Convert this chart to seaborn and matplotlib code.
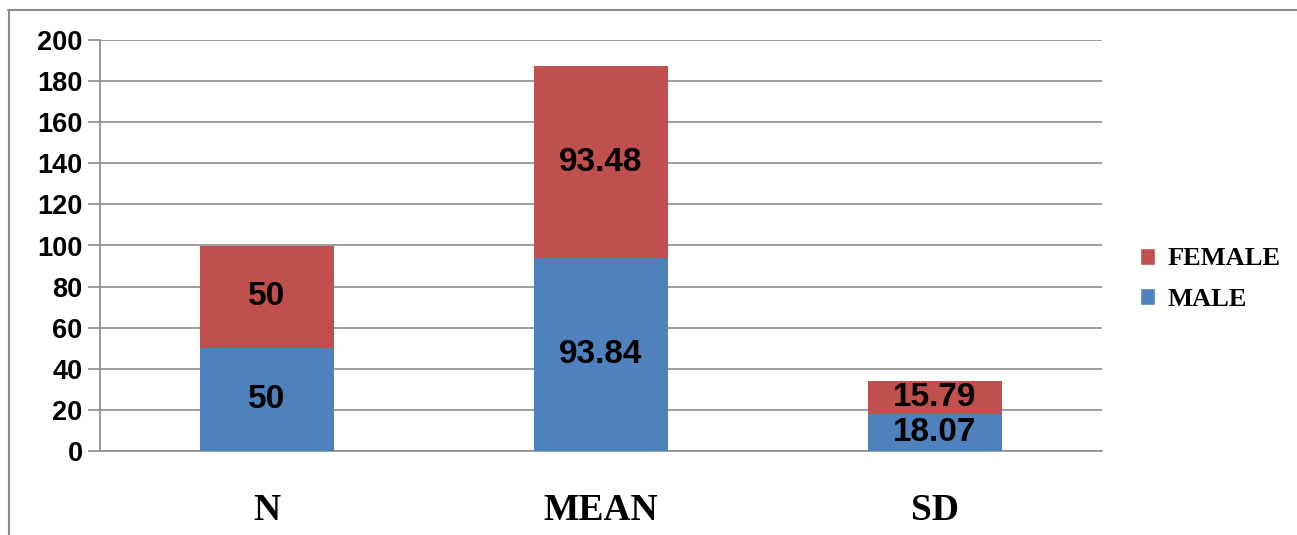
import matplotlib
matplotlib.use("Agg")
import matplotlib.pyplot as plt
import seaborn as sns
import pandas as pd
from matplotlib.lines import Line2D
from matplotlib.patches import Patch

categories = ["N", "MEAN", "SD"]
male = [50, 93.84, 18.07]
female = [50, 93.48, 15.79]
male_labels = ["50", "93.84", "18.07"]
female_labels = ["50", "93.48", "15.79"]
yticks = [0, 20, 40, 60, 80, 100, 120, 140, 160, 180, 200]

RED = "#C0504D"
BLUE = "#4F81BD"
GRID = "#8C8C8C"

sns.set_style("white")
plt.rcParams["font.family"] = ["Liberation Sans", "DejaVu Sans"]
plt.rcParams["text.color"] = "black"
plt.rcParams["xtick.color"] = "black"
plt.rcParams["ytick.color"] = "black"

fig = plt.figure(figsize=(12.97, 5.35), dpi=100)
ax = fig.add_axes([100 / 1297, 1 - 451 / 535, 1002 / 1297, 411 / 535])

df = pd.DataFrame({"cat": categories, "male": male, "female": female})
sns.barplot(data=df, x="cat", y="male", color=BLUE, width=0.4, ax=ax,
            saturation=1, linewidth=0, zorder=3)
sns.barplot(data=df, x="cat", y="female", bottom=df["male"], color=RED, width=0.4,
            ax=ax, saturation=1, linewidth=0, zorder=3)

for i in range(len(categories)):
    ax.text(i, male[i] / 2, male_labels[i], ha="center", va="center",
            fontsize=24, fontweight="bold", color="black", zorder=5)
    ax.text(i, male[i] + female[i] / 2, female_labels[i], ha="center", va="center",
            fontsize=24, fontweight="bold", color="black", zorder=5)

ax.set_xlim(-0.5, 2.5)
ax.set_ylim(0, 200)
ax.set_yticks(yticks)
ax.set_yticklabels([str(v) for v in yticks], fontsize=19.5, fontweight="bold", color="black")
ax.yaxis.grid(True, color=GRID, linewidth=1.2, zorder=0)
ax.set_axisbelow(True)
ax.set_xlabel("")
ax.set_ylabel("")
ax.set_xticks(range(len(categories)))
ax.set_xticklabels(categories, fontsize=27, fontweight="bold", color="black",
                   family=["Liberation Serif", "DejaVu Serif"])
ax.set_xticks([-0.5, 0.5, 1.5, 2.5], minor=True)
ax.tick_params(axis="x", which="major", length=0, pad=30)
ax.tick_params(axis="x", which="minor", length=14, width=1.2, color=GRID, direction="out")
ax.tick_params(axis="y", length=8.5, width=1.2, color=GRID, labelcolor="black",
               direction="out", pad=4, left=True)

for s in ["top", "right"]:
    ax.spines[s].set_visible(False)
for s in ["left", "bottom"]:
    ax.spines[s].set_color(GRID)
    ax.spines[s].set_linewidth(1.2)

handles = [Patch(facecolor=RED, label="FEMALE"), Patch(facecolor=BLUE, label="MALE")]
leg = ax.legend(handles=handles, loc="center left",
                bbox_to_anchor=((1140 - 100) / 1002, (451 - 279) / 411),
                frameon=False, borderpad=0, borderaxespad=0,
                handlelength=0.58, handleheight=0.62, handletextpad=0.48,
                labelspacing=0.65,
                prop={"family": ["Liberation Serif", "DejaVu Serif"], "weight": "bold", "size": 19})
for t in leg.get_texts():
    t.set_color("black")

# outer frame
fig.add_artist(Line2D([8 / 1297, 1.0], [1 - 9.5 / 535] * 2, color="#8A8A8A", linewidth=1.5,
                      transform=fig.transFigure))
fig.add_artist(Line2D([8.5 / 1297] * 2, [0, 1 - 9.5 / 535], color="#8A8A8A", linewidth=1.5,
                      transform=fig.transFigure))

fig.savefig("out.png", dpi=100)
